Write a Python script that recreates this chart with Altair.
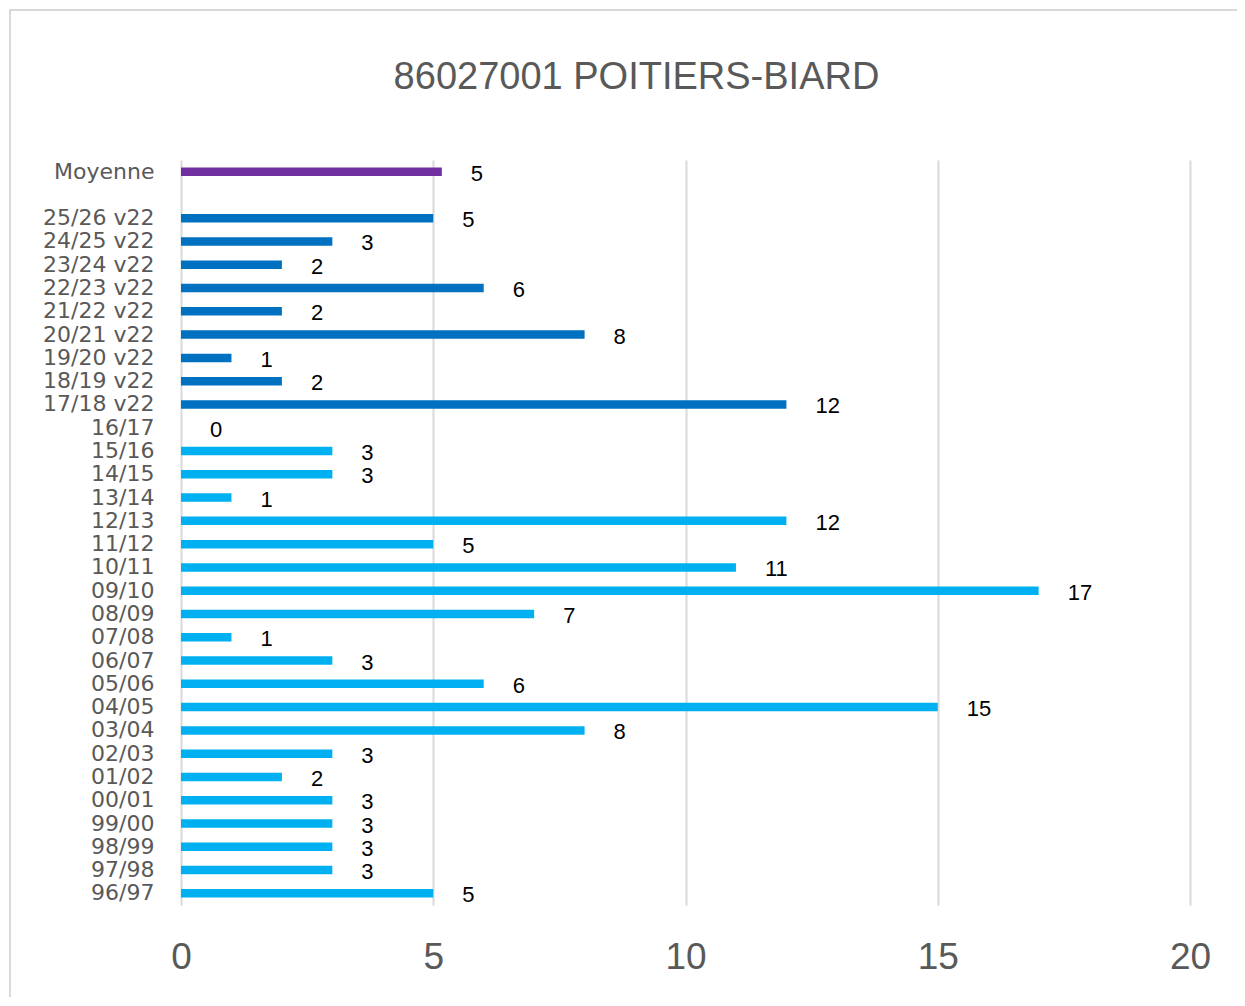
import altair as alt
import pandas as pd

title = "86027001 POITIERS-BIARD"

categories = ["Moyenne", " ",
              "25/26 v22", "24/25 v22", "23/24 v22", "22/23 v22", "21/22 v22",
              "20/21 v22", "19/20 v22", "18/19 v22", "17/18 v22",
              "16/17", "15/16", "14/15", "13/14", "12/13", "11/12", "10/11",
              "09/10", "08/09", "07/08", "06/07", "05/06", "04/05", "03/04",
              "02/03", "01/02", "00/01", "99/00", "98/99", "97/98", "96/97"]

bar_labels = ["Moyenne",
              "25/26 v22", "24/25 v22", "23/24 v22", "22/23 v22", "21/22 v22",
              "20/21 v22", "19/20 v22", "18/19 v22", "17/18 v22",
              "16/17", "15/16", "14/15", "13/14", "12/13", "11/12", "10/11",
              "09/10", "08/09", "07/08", "06/07", "05/06", "04/05", "03/04",
              "02/03", "01/02", "00/01", "99/00", "98/99", "97/98", "96/97"]
values = [5.17,
          5, 3, 2, 6, 2, 8, 1, 2, 12,
          0, 3, 3, 1, 12, 5, 11, 17, 7, 1, 3, 6, 15, 8, 3, 2, 3, 3, 3, 3, 5]
groups = ["Moyenne"] + ["v22"] * 9 + ["ancien"] * 21

group_domain = ["Moyenne", "v22", "ancien"]
group_colors = ["#7030A0", "#0070C0", "#00B0F0"]

x_ticks = [0, 5, 10, 15, 20]

df = pd.DataFrame({"saison": bar_labels, "valeur": values, "groupe": groups})

FONT = "Liberation Sans"
YFONT = "DejaVu Sans"
GREY = "#595959"

y_enc = alt.Y("saison:N", sort=categories, scale=alt.Scale(domain=categories, paddingInner=0, paddingOuter=0),
              axis=alt.Axis(title=None, ticks=False, domain=False, grid=False,
                            labelFontSize=22, labelColor=GREY, labelFont=YFONT,
                            labelPadding=27))
x_enc = alt.X("valeur:Q", scale=alt.Scale(domain=[0, 20], nice=False),
              axis=alt.Axis(title=None, values=x_ticks, ticks=False, domain=False,
                            grid=True, gridColor="#d9d9d9", gridWidth=2,
                            labelFontSize=37, labelColor=GREY, labelFont=FONT,
                            labelPadding=34, labelFlush=False, format="d"))

bars = alt.Chart(df).mark_bar(size=8.5).encode(
    x=x_enc, y=y_enc,
    color=alt.Color("groupe:N", scale=alt.Scale(domain=group_domain, range=group_colors), legend=None),
)

labels = alt.Chart(df).mark_text(align="left", baseline="middle", dx=29, dy=2,
                                 fontSize=22, font=FONT, color="#000000").encode(
    x="valeur:Q", y=alt.Y("saison:N", sort=categories),
    text=alt.Text("valeur:Q", format=".0f"),
)

frame = alt.Chart(pd.DataFrame({"k": [0]})).mark_rect(
    fill=None, stroke="#d9d9d9", strokeWidth=2).encode(
    x=alt.value(-171), x2=alt.value(1100), y=alt.value(-150), y2=alt.value(1000))

chart = alt.layer(frame, bars, labels).properties(
    width=1009, height=745,
    title=alt.TitleParams(title, fontSize=38, font=FONT, color=GREY, fontWeight="normal",
                          anchor="middle", offset=-88, dx=-49),
    autosize=alt.AutoSizeParams(type="none"),
    padding={"left": 173, "top": 152, "right": 47, "bottom": 92},
).configure_view(stroke=None)

chart.save("out.html", embed_options={"renderer": "svg", "actions": False})
